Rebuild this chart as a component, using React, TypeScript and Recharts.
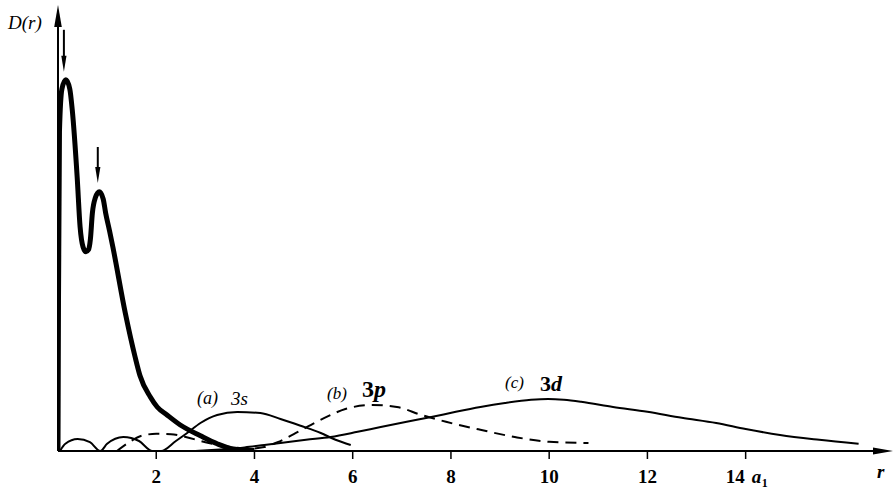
import { LineChart, Line, XAxis, YAxis, ReferenceLine } from 'recharts';

const W = 895;
const H = 494;
const R_MAX = 17.0;
const D_MAX = 111.5;

// D(r) in arbitrary units: [r, D]
const totalCurve: [number, number][] = [
  [0, 0], [0.01, 37.5], [0.03, 80], [0.08, 90.5], [0.16, 92.8], [0.24, 90.5], [0.29, 85.3],
  [0.39, 68.5], [0.45, 56], [0.51, 51], [0.57, 49.8], [0.62, 50.3], [0.66, 53], [0.7, 59.5],
  [0.76, 63.3], [0.84, 64.8], [0.92, 63], [0.97, 59.5], [1.05, 55], [1.12, 50.8], [1.37, 34.5],
  [1.57, 23.5], [1.67, 18.8], [1.88, 13.5], [2.02, 11], [2.22, 9], [2.49, 6.5], [2.9, 3.8],
  [3.24, 1.8], [3.57, 0.5], [4.0, 0.1],
];

const curve3s: [number, number][] = [
  [0.04, 0], [0.15, 1.8], [0.4, 3], [0.65, 2.2], [0.86, 0], [1.0, 1.8], [1.33, 3.5], [1.65, 2.5],
  [1.92, 0], [2.1, 0], [2.4, 2.5], [2.63, 4.5], [2.9, 7], [3.24, 9], [3.65, 9.75], [4.12, 9.5],
  [4.53, 8], [4.94, 6.3], [5.35, 4.5], [5.65, 2.8], [5.96, 1.5],
];

const curve3p: [number, number][] = [
  [1.2, 0], [1.45, 2.2], [1.7, 3.8], [2.0, 4.3], [2.3, 4.2], [2.6, 3.5], [3.0, 2.2], [3.5, 1],
  [3.9, 0.6], [4.2, 1], [4.47, 2.2], [4.8, 4.2], [5.1, 6.2], [5.5, 8.7], [5.85, 10.5], [6.4, 11.5],
  [6.9, 11], [7.4, 9], [7.9, 7.3], [8.6, 5.3], [9.3, 3.5], [10.0, 2.3], [10.8, 2],
];

const curve3d: [number, number][] = [
  [2.8, 0], [3.3, 0.4], [3.8, 0.9], [4.2, 1.5], [4.53, 2], [5.05, 2.8], [5.55, 3.5], [6.1, 4.8],
  [6.57, 6], [7.1, 7.3], [7.6, 8.5], [8.1, 9.8], [8.6, 11], [9.1, 12], [9.63, 12.8], [9.98, 13],
  [10.3, 12.8], [10.65, 12.3], [11.3, 11], [12.0, 9.8], [12.7, 8.3], [13.4, 7], [14.0, 5.5],
  [14.7, 4], [15.5, 2.8], [16.3, 1.8],
];

const rTicks = [2, 4, 6, 8, 10, 12, 14];

// arrows marking the two peaks: [r, tail D, tip D]
const peakArrows: [number, number, number][] = [
  [0.12, 105.3, 94.8],
  [0.81, 76, 67],
];

const toRows = (pts: [number, number][]) => pts.map(([r, d]) => ({ r, d }));

const SERIF = '"Liberation Serif", "DejaVu Serif", serif';

function Arrow(props: any) {
  const { x1, y1, x2, y2, head, half, width } = props;
  const dx = x2 - x1;
  const dy = y2 - y1;
  const len = Math.hypot(dx, dy) || 1;
  const ux = dx / len;
  const uy = dy / len;
  const bx = x2 - ux * head;
  const by = y2 - uy * head;
  const pts = `${x2},${y2} ${bx - uy * half},${by + ux * half} ${bx + uy * half},${by - ux * half}`;
  return (
    <g>
      <line x1={x1} y1={y1} x2={bx + ux} y2={by + uy} stroke="#000" strokeWidth={width} />
      <polygon points={pts} fill="#000" />
    </g>
  );
}

function RTick({ x, y, payload }: any) {
  const v = payload.value;
  const style = { fontFamily: SERIF, fontSize: 19, fontWeight: 700, fill: '#000' };
  if (v === 14) {
    return (
      <g>
        <text x={x - 1} y={y + 22} textAnchor="end" {...style}>14</text>
        <text x={x + 6} y={y + 22} {...style} fontStyle="italic">a</text>
        <text x={x + 16} y={y + 26} {...style} fontSize={12}>1</text>
      </g>
    );
  }
  return (
    <text x={x} y={y + 22} textAnchor="middle" {...style}>
      {v}
    </text>
  );
}

export default function App() {
  return (
    <div style={{ position: 'absolute', left: 0, top: 0, width: W, height: H, background: '#fff' }}>
      <LineChart width={W} height={H} margin={{ top: 5, right: 2, bottom: 0, left: 58 }}>
        <XAxis
          type="number"
          dataKey="r"
          domain={[0, R_MAX]}
          ticks={rTicks}
          height={43}
          axisLine={false}
          tickSize={8}
          tickMargin={2}
          tickLine={{ stroke: '#000', strokeWidth: 1.5 }}
          tick={<RTick />}
          allowDataOverflow
        />
        <YAxis type="number" dataKey="d" domain={[0, D_MAX]} hide allowDataOverflow />

        <ReferenceLine
          segment={[{ x: 0, y: 0 }, { x: R_MAX, y: 0 }]}
          ifOverflow="visible"
          shape={(p: any) => <Arrow {...p} head={20} half={3.5} width={2.2} />}
        />
        <ReferenceLine
          segment={[{ x: 0, y: 0 }, { x: 0, y: D_MAX }]}
          ifOverflow="visible"
          shape={(p: any) => <Arrow {...p} head={22} half={3.8} width={2} />}
        />
        {peakArrows.map(([r, tail, tip]) => (
          <ReferenceLine
            key={r}
            segment={[{ x: r, y: tail }, { x: r, y: tip }]}
            ifOverflow="visible"
            shape={(p: any) => <Arrow {...p} head={16} half={2.6} width={2} />}
          />
        ))}

        <Line
          data={toRows(curve3d)}
          dataKey="d"
          type="monotone"
          stroke="#000"
          strokeWidth={2}
          dot={false}
          activeDot={false}
          isAnimationActive={false}
        />
        <Line
          data={toRows(curve3p)}
          dataKey="d"
          type="monotone"
          stroke="#000"
          strokeWidth={2}
          strokeDasharray="11 7"
          dot={false}
          activeDot={false}
          isAnimationActive={false}
        />
        <Line
          data={toRows(curve3s)}
          dataKey="d"
          type="monotone"
          stroke="#000"
          strokeWidth={2}
          dot={false}
          activeDot={false}
          isAnimationActive={false}
        />
        <Line
          data={toRows(totalCurve)}
          dataKey="d"
          type="monotone"
          stroke="#000"
          strokeWidth={5}
          strokeLinejoin="round"
          dot={false}
          activeDot={false}
          isAnimationActive={false}
        />
      </LineChart>

      <svg
        width={W}
        height={H}
        style={{ position: 'absolute', left: 0, top: 0, pointerEvents: 'none' }}
        fontFamily={SERIF}
        fill="#000"
      >
        <text x={8} y={29} fontSize={19} fontStyle="italic">D(r)</text>
        <text x={197} y={404} fontSize={18} fontStyle="italic">(a)</text>
        <text x={231} y={405} fontSize={19} fontStyle="italic">3s</text>
        <text x={327} y={399} fontSize={17} fontStyle="italic">(b)</text>
        <text x={362} y={397} fontSize={24} fontWeight={700}>
          3<tspan fontStyle="italic">p</tspan>
        </text>
        <text x={505} y={388} fontSize={17} fontStyle="italic">(c)</text>
        <text x={540} y={391} fontSize={22} fontWeight={700}>
          3<tspan fontStyle="italic">d</tspan>
        </text>
        <text x={877} y={478} fontSize={19} fontStyle="italic" fontWeight={700}>r</text>
      </svg>
    </div>
  );
}
